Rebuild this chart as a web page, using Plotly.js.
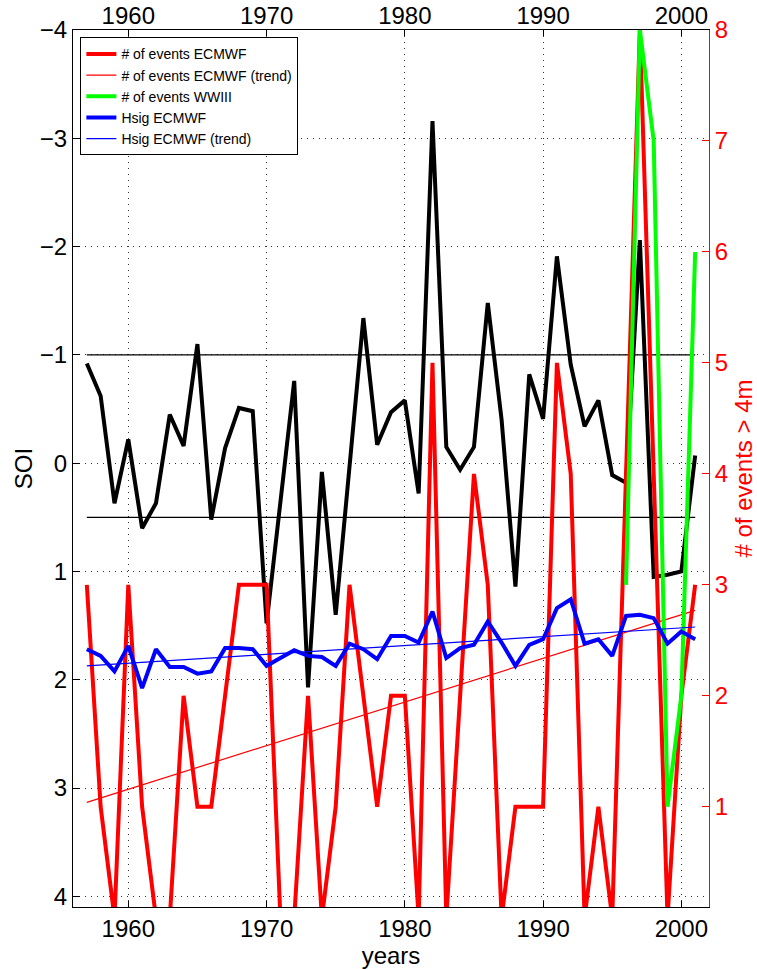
<!DOCTYPE html>
<html>
<head>
<meta charset="utf-8">
<script src="https://cdn.plot.ly/plotly-3.0.1.min.js"></script>
<style>html,body{margin:0;padding:0;background:#fff;}#chart{width:757px;height:969px;}</style>
</head>
<body>
<div id="chart"></div>
<script>
// ---- data ----
const years = [1957,1958,1959,1960,1961,1962,1963,1964,1965,1966,1967,1968,1969,1970,1971,1972,1973,1974,1975,1976,1977,1978,1979,1980,1981,1982,1983,1984,1985,1986,1987,1988,1989,1990,1991,1992,1993,1994,1995,1996,1997,1998,1999,2000,2001];
const soi = [-0.92,-0.62,0.37,-0.22,0.60,0.37,-0.45,-0.16,-1.10,0.52,-0.14,-0.51,-0.48,1.48,0.36,-0.76,2.07,0.08,1.40,0.03,-1.34,-0.17,-0.47,-0.58,0.28,-3.16,-0.15,0.06,-0.15,-1.48,-0.40,1.14,-0.82,-0.41,-1.91,-0.91,-0.34,-0.58,0.11,0.18,-2.06,1.05,1.03,1.00,-0.07];
const eventsECMWF = [3,1,0,3,1,0,0,2,1,1,2,3,3,3,0,0,2,0,1,3,2,1,2,2,0,5,0,2,4,3,0,1,1,1,5,4,0,1,0,4,8,4,0,2,3];
const trendYears = [1957,2001];
const eventsECMWFTrend = [1.04,2.77];
const yearsWWIII = [1996,1997,1998,1999,2000,2001];
const eventsWWIII = [3,8,7,1,2,6];
const hsigECMWF = [2.42,2.36,2.22,2.45,2.07,2.42,2.26,2.26,2.20,2.22,2.43,2.43,2.42,2.27,2.34,2.41,2.36,2.35,2.27,2.47,2.42,2.33,2.54,2.54,2.48,2.76,2.34,2.43,2.46,2.67,2.48,2.27,2.46,2.51,2.79,2.87,2.47,2.51,2.36,2.72,2.73,2.70,2.47,2.58,2.51];
const hsigECMWFTrend = [2.27,2.62];
const soiThresholds = [-1,0.5];
const xTicks = [1960,1970,1980,1990,2000];
const soiTicks = [-4,-3,-2,-1,0,1,2,3,4];
const eventTicks = [1,2,3,4,5,6,7,8];

// ---- traces ----
const FONT = 'Liberation Sans, Arial, sans-serif';
const traces = [];
traces.push({x: years, y: soi, type:'scatter', mode:'lines', line:{color:'black', width:4}, xaxis:'x', yaxis:'y', showlegend:false, hoverinfo:'skip'});
soiThresholds.forEach(v => {
  traces.push({x: trendYears, y: trendYears.map(() => v), type:'scatter', mode:'lines', line:{color:'black', width:1.3}, xaxis:'x', yaxis:'y', showlegend:false, hoverinfo:'skip'});
});
traces.push({x:[xTicks[0]], y:[null], type:'scatter', mode:'lines', xaxis:'x2', yaxis:'y', showlegend:false, hoverinfo:'skip'});
traces.push({x: years, y: eventsECMWF, name:'# of events ECMWF', type:'scatter', mode:'lines', line:{color:'#ff0000', width:4}, xaxis:'x', yaxis:'y2'});
traces.push({x: trendYears, y: eventsECMWFTrend, name:'# of events ECMWF (trend)', type:'scatter', mode:'lines', line:{color:'#ff0000', width:1.2}, xaxis:'x', yaxis:'y2'});
traces.push({x: yearsWWIII, y: eventsWWIII, name:'# of events WWIII', type:'scatter', mode:'lines', line:{color:'#00ff00', width:4}, xaxis:'x', yaxis:'y2'});
traces.push({x: years, y: hsigECMWF, name:'Hsig ECMWF', type:'scatter', mode:'lines', line:{color:'#0000ff', width:4}, xaxis:'x', yaxis:'y2'});
traces.push({x: trendYears, y: hsigECMWFTrend, name:'Hsig ECMWF (trend)', type:'scatter', mode:'lines', line:{color:'#0000ff', width:1.2}, xaxis:'x', yaxis:'y2'});

const gridDash = '1px,5px';
const layout = {
  width: 757, height: 969,
  margin: {l:73, r:48, t:30, b:62, pad:0},
  paper_bgcolor:'white', plot_bgcolor:'white',
  font: {family: FONT, size: 24, color:'black'},
  showlegend: true,
  legend: {x:0.0116, y:0.9917, xanchor:'left', yanchor:'top', bgcolor:'white', bordercolor:'black', borderwidth:1, font:{family:FONT, size:14, color:'black'}, itemwidth:30, traceorder:'normal', tracegroupgap:0},
  xaxis: {range:[1956,2002], tickvals:xTicks, ticks:'inside', ticklen:6, tickcolor:'black', showline:true, linecolor:'black', linewidth:1, mirror:'ticks', showgrid:true, gridcolor:'#333', griddash:gridDash, gridwidth:1, zeroline:false, tickfont:{size:24}, title:{text:'years', font:{size:24}, standoff:2}},
  xaxis2: {range:[1956,2002], overlaying:'x', side:'top', anchor:'y', tickvals:xTicks, ticks:'', showline:false, showgrid:false, zeroline:false, tickfont:{size:24}},
  yaxis: {range:[4.098,-4], tickvals:soiTicks, ticktext:soiTicks.map(v => v < 0 ? '\u2212' + Math.abs(v) : String(v)), ticks:'inside', ticklen:7, tickcolor:'black', showline:true, linecolor:'black', linewidth:1, showgrid:true, gridcolor:'#333', griddash:gridDash, gridwidth:1, zeroline:false, tickfont:{size:24}, title:{text:'SOI', font:{size:24}, standoff:0}},
  yaxis2: {range:[0.097,8], overlaying:'y', side:'right', anchor:'x', tickvals:eventTicks, ticks:'inside', ticklen:7, tickcolor:'#ff0000', showline:true, linecolor:'#ff0000', linewidth:1, showgrid:false, zeroline:false, tickfont:{size:24, color:'#ff0000'}, title:{text:'# of events > 4m', font:{size:24, color:'#ff0000'}, standoff:10}}
};
Plotly.newPlot('chart', traces, layout, {displayModeBar:false, staticPlot:true});
</script>
</body>
</html>
